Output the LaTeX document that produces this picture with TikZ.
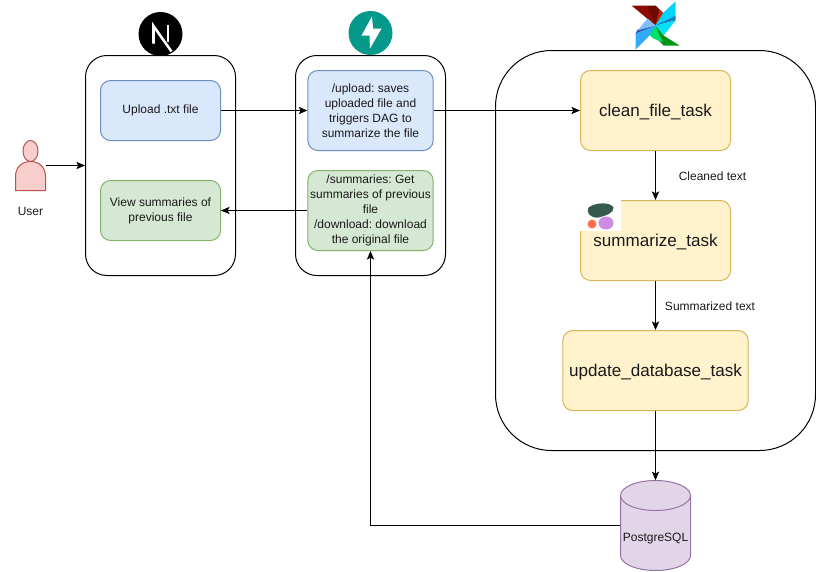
\documentclass[tikz,border=0pt]{standalone}
\usepackage{fontspec}
\setmainfont{Liberation Sans}
\definecolor{blueF}{HTML}{DAE8FC}\definecolor{blueD}{HTML}{6C8EBF}
\definecolor{greenF}{HTML}{D5E8D4}\definecolor{greenD}{HTML}{82B366}
\definecolor{yelF}{HTML}{FFF2CC}\definecolor{yelD}{HTML}{D6B656}
\definecolor{redF}{HTML}{F8CECC}\definecolor{redD}{HTML}{B85450}
\definecolor{purF}{HTML}{E1D5E7}\definecolor{purD}{HTML}{9673A6}
\definecolor{txt}{HTML}{1A1A1A}
\usetikzlibrary{arrows.meta}
\frenchspacing
\tikzset{
 every node/.style={font=\fontsize{9}{11.25}\selectfont, text=txt, align=center, inner sep=0pt},
 panel/.style={draw=black, line width=.75pt, fill=white, rounded corners=#1},
 card/.style={draw, line width=.75pt, rounded corners=7.5pt},
 bluecard/.style={card, draw=blueD, fill=blueF},
 greencard/.style={card, draw=greenD, fill=greenF},
 taskcard/.style={card, draw=yelD, fill=yelF, font=\fontsize{12.8}{15}\selectfont, text height=11.5pt, text depth=2pt},
 link/.style={line width=.75pt, -{Stealth[length=6.5pt,width=5.5pt,inset=1.5pt]}},
}
\begin{document}
\begin{tikzpicture}[x=.75pt,y=-.75pt]
\useasboundingbox (-.5,-.5) rectangle (815.5,570.5);
% panels
\node[panel=16pt, minimum width=112.5pt, minimum height=165pt] (front) at (160,165) {};
\node[panel=16pt, minimum width=112.5pt, minimum height=165pt] (back) at (370,165) {};
\node[panel=42pt, minimum width=240pt, minimum height=300pt] (air) at (655,250) {};
% cards
\node[bluecard, minimum width=90pt, minimum height=45pt] (upload) at (160,110) {Upload .txt file};
\node[greencard, minimum width=90pt, minimum height=45pt] (view) at (160,210) {View summaries of\\previous file};
\node[bluecard, minimum width=94pt, minimum height=60pt] (apiup) at (370,110) {/upload: saves\\uploaded file and\\triggers DAG to\\summarize the file};
\node[greencard, minimum width=94pt, minimum height=60pt] (apisum) at (370,210) {/summaries: Get\\summaries of previous\\file\\/download: download\\the original file};
\node[taskcard, minimum width=112.5pt, minimum height=60pt] (clean) at (655,110) {clean\_file\_task};
\node[taskcard, minimum width=112.5pt, minimum height=60pt] (summ) at (655,240) {summarize\_task};
\node[taskcard, minimum width=139pt, minimum height=60pt] (update) at (655,370) {update\_database\_task};
% user
\node[minimum width=22.5pt, minimum height=37.5pt] (user) at (30,165) {};
\draw[draw=redD, fill=redF, line width=.75pt] (15,190) -- (15,176) .. controls (15,167) and (21,161) .. (30,161) .. controls (39,161) and (45,167) .. (45,176) -- (45,190) -- cycle;
\draw[draw=redD, fill=redF, line width=.75pt] (30,150.5) ellipse [x radius=7.5, y radius=10.5];
\node (userlabel) at (30,211) {User};
% database
\node[minimum width=52.5pt, minimum height=67.5pt] (db) at (655,525) {};
\draw[draw=purD, fill=purF, line width=.75pt] (620,495) arc [start angle=180, end angle=360, x radius=35, y radius=15] -- (690,555) arc [start angle=0, end angle=180, x radius=35, y radius=15] -- cycle;
\draw[draw=purD, line width=.75pt] (620,495) arc [start angle=180, end angle=0, x radius=35, y radius=15];
\node (dblabel) at (655,538) {PostgreSQL};
% connector labels
\node (lblclean) at (712,175.5) {Cleaned text};
\node (lblsumm) at (709.5,305.5) {Summarized text};
% connectors
\draw[link] (user.east) -- (front.west);
\draw[link] (upload.east) -- (apiup.west);
\draw[link] (apiup.east) -- (clean.west);
\draw[link] (apisum.west) -- (view.east);
\draw[link] (clean.south) -- (summ.north);
\draw[link] (summ.south) -- (update.north);
\draw[link] (update.south) -- (db.north);
\draw[link] (db.west) -| (apisum.south);
% Next.js icon
\fill[black] (160,33.5) circle [radius=22];
\draw[white, line width=1.9pt] (153,43) -- (153,25.5) -- (171,51);
\draw[white, line width=1.6pt] (167.5,24) -- (167.5,41);
% FastAPI icon
\fill[fill={rgb,255:red,5;green,153;blue,139}] (370,32.5) circle [radius=22];
\fill[white] (371.5,16) -- (361,35) -- (369,35) -- (369.5,48) -- (381,28) -- (372.5,28) -- cycle;
% Airflow icon
\fill[fill={rgb,255:red,139;green,12;blue,0}] (631,5) -- (647,5) -- (655,15) -- (655,25) -- cycle;
\fill[fill={rgb,255:red,110;green,10;blue,0}] (647,5) -- (655,5) -- (660,10) -- (655,25) -- cycle;
\fill[fill={rgb,255:red,190;green,40;blue,10}] (659,9) -- (666,15) -- (662,23) -- (655,25) -- cycle;
\fill[fill={rgb,255:red,0;green,215;blue,255}] (675,1) -- (675,15) -- (655,25) -- (663,12) -- cycle;
\fill[fill={rgb,255:red,20;green,130;blue,190}] (675,15) -- (675,20) -- (655,25) -- cycle;
\fill[fill={rgb,255:red,0;green,225;blue,250}] (675,20) -- (663,35) -- (655,25) -- cycle;
\fill[fill={rgb,255:red,0;green,150;blue,20}] (679,45) -- (663,45) -- (655,25) -- (663,35) -- cycle;
\fill[fill={rgb,255:red,0;green,110;blue,40}] (663,45) -- (655,37) -- (655,25) -- cycle;
\fill[fill={rgb,255:red,0;green,225;blue,110}] (655,25) -- (662,42) -- (653,38) -- (643,30) -- cycle;
\fill[fill={rgb,255:red,50;green,170;blue,245}] (635,49) -- (635,33) -- (655,25) -- (648,36) -- cycle;
\fill[fill={rgb,255:red,30;green,90;blue,180}] (635,33) -- (637,29) -- (655,25) -- cycle;
\fill[fill={rgb,255:red,130;green,190;blue,245}] (637,30) -- (647,18) -- (655,25) -- cycle;
% model icon on summarize_task
\fill[white] (578,198) rectangle (620,230);
\fill[fill={rgb,255:red,55;green,90;blue,78}] (588,207) .. controls (594,202) and (610,201) .. (613,207) .. controls (614,212) and (606,215) .. (598,217) .. controls (590,218) and (585,212) .. (588,207) -- cycle;
\fill[fill={rgb,255:red,255;green,112;blue,77}] (591.5,223.5) circle [radius=4.5];
\fill[fill={rgb,255:red,205;green,140;blue,225}] (605.5,222.5) ellipse [x radius=7.5, y radius=6.5];
\end{tikzpicture}
\end{document}
